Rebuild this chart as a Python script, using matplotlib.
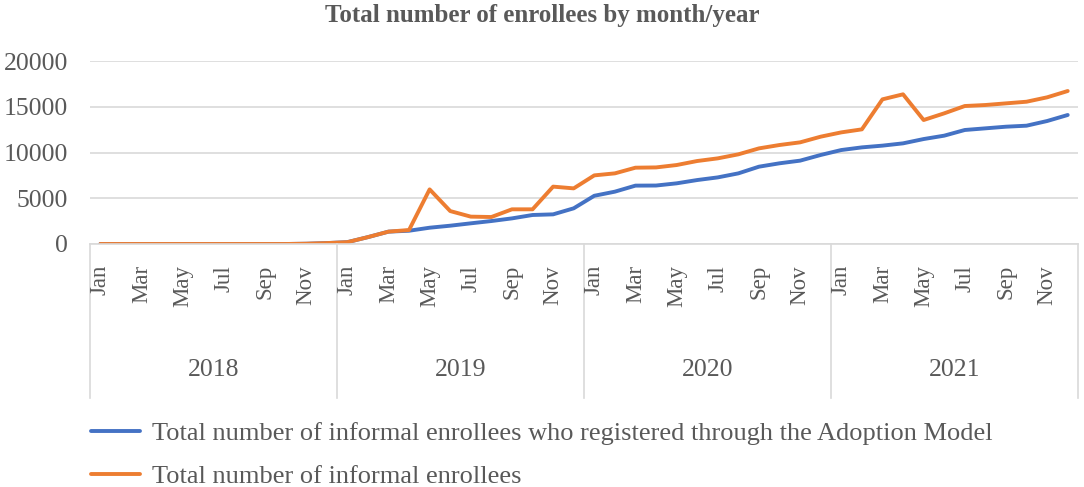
import matplotlib.pyplot as plt
from matplotlib.lines import Line2D

plt.rcParams['font.family'] = ['Liberation Serif', 'DejaVu Serif']

years = ['2018', '2019', '2020', '2021']
months = ['Jan', 'Feb', 'Mar', 'Apr', 'May', 'Jun',
          'Jul', 'Aug', 'Sep', 'Oct', 'Nov', 'Dec']

# Total number of informal enrollees (orange)
total_2018 = [0, 0, 0, 0, 0, 0, 0, 0, 0, 0, 30, 100]
total_2019 = [200, 750, 1350, 1530, 5970, 3600, 2990, 2950, 3790, 3790, 6270, 6080]
total_2020 = [7500, 7720, 8340, 8370, 8630, 9070, 9360, 9800, 10450, 10820, 11110, 11730]
total_2021 = [12200, 12530, 15810, 16360, 13550, 14280, 15080, 15190, 15370, 15550, 16030, 16720]

# Registered through the Adoption Model (blue)
adopt_2018 = [0, 0, 0, 0, 0, 0, 0, 0, 0, 0, 30, 100]
adopt_2019 = [200, 750, 1350, 1450, 1780, 2000, 2260, 2510, 2800, 3170, 3240, 3900]
adopt_2020 = [5270, 5720, 6380, 6390, 6630, 6990, 7280, 7720, 8450, 8820, 9110, 9730]
adopt_2021 = [10270, 10560, 10750, 11000, 11470, 11840, 12460, 12640, 12820, 12930, 13440, 14100]

total = total_2018 + total_2019 + total_2020 + total_2021
adopt = adopt_2018 + adopt_2019 + adopt_2020 + adopt_2021
x = [i + 0.5 for i in range(len(total))]

grey = '#595959'
line_grey = '#d9d9d9'

fig = plt.figure(figsize=(10.84, 4.87), dpi=100)
ax = fig.add_axes([90 / 1084, 1 - 244 / 487, 988 / 1084, 183 / 487])

ax.plot(x, adopt, color='#4472C4', lw=2.8, solid_capstyle='round',
        label='Total number of informal enrollees who registered through the Adoption Model')
ax.plot(x, total, color='#ED7D31', lw=2.8, solid_capstyle='round',
        label='Total number of informal enrollees')

ax.set_xlim(0, 48)
ax.set_ylim(0, 20000)
ax.set_yticks([0, 5000, 10000, 15000, 20000])
ax.yaxis.grid(True, color=line_grey, lw=1.2)
ax.set_axisbelow(True)
for s in ['top', 'right', 'left']:
    ax.spines[s].set_visible(False)
ax.spines['bottom'].set_color(line_grey)
ax.spines['bottom'].set_linewidth(1.2)
ax.tick_params(axis='y', length=0, pad=16, labelsize=18.5, labelcolor=grey)
ax.set_xticks([])

# month labels (every other month) and year groups
trans = ax.get_xaxis_transform()
for i in range(len(total)):
    if i % 2 == 0:
        ax.text(x[i], -0.115, months[i % 12], transform=trans, rotation=90,
                ha='center', va='top', fontsize=16.5, color=grey)
for k, yr in enumerate(years):
    ax.text(12 * k + 6, -0.69, yr, transform=trans, ha='center', va='center',
            fontsize=18.5, color=grey)
for k in range(len(years) + 1):
    ax.add_line(Line2D([12 * k, 12 * k], [0, -0.84], transform=trans,
                       color=line_grey, lw=1.2, clip_on=False))

fig.text(0.5, 0.968, 'Total number of enrollees by month/year', ha='center',
         va='center', fontsize=18, fontweight='bold', color=grey)

leg = fig.legend(loc='upper left', bbox_to_anchor=(0.062, 0.183), frameon=False,
                 fontsize=19, handlelength=1.86, handletextpad=0.45, labelspacing=0.75)
for t in leg.get_texts():
    t.set_color(grey)

fig.savefig('out.png', dpi=100)
